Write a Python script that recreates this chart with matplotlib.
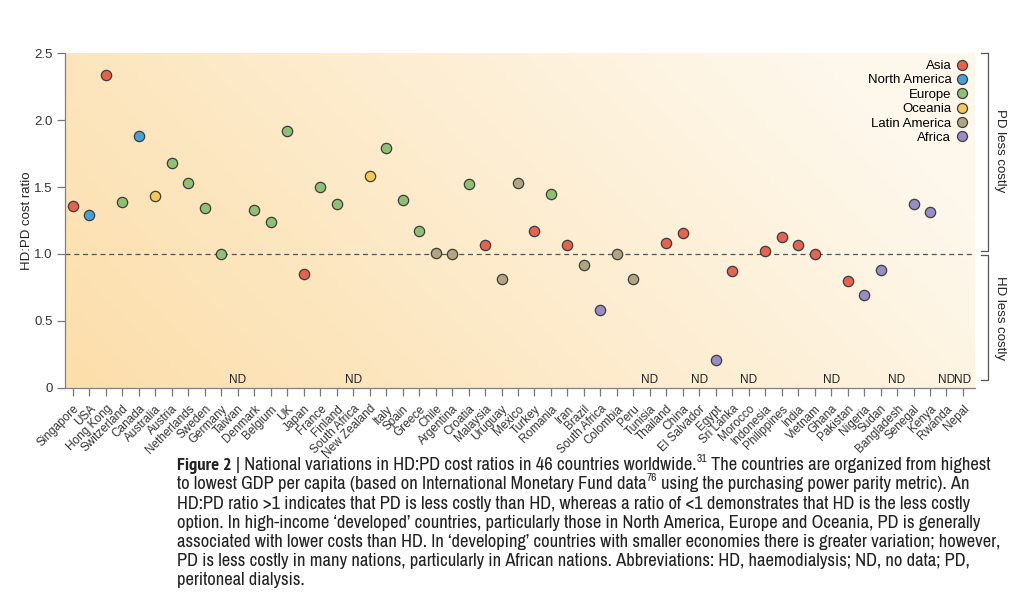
import numpy as np
import matplotlib
matplotlib.use("Agg")
import matplotlib.pyplot as plt
from matplotlib import font_manager
from matplotlib.font_manager import FontProperties
from matplotlib.lines import Line2D

# 数据：按人均GDP从高到低排列的国家，None 表示无数据 (ND)
countries = ["Singapore", "USA", "Hong Kong", "Switzerland", "Canada", "Australia",
             "Austria", "Netherlands", "Sweden", "Germany", "Taiwan", "Denmark",
             "Belgium", "UK", "Japan", "France", "Finland", "South Africa",
             "New Zealand", "Italy", "Spain", "Greece", "Chile", "Argentina",
             "Croatia", "Malaysia", "Uruguay", "Mexico", "Turkey", "Romania",
             "Iran", "Brazil", "South Africa", "Colombia", "Peru", "Tunisia",
             "Thailand", "China", "El Salvador", "Egypt", "Sri Lanka", "Morocco",
             "Indonesia", "Philippines", "India", "Vietnam", "Ghana", "Pakistan",
             "Nigeria", "Sudan", "Bangladesh", "Senegal", "Kenya", "Rwanda", "Nepal"]
ratios = [1.36, 1.29, 2.34, 1.39, 1.88, 1.43,
          1.68, 1.53, 1.34, 1.00, None, 1.33,
          1.24, 1.92, 0.85, 1.50, 1.37, None,
          1.58, 1.79, 1.40, 1.17, 1.01, 1.00,
          1.52, 1.07, 0.81, 1.53, 1.17, 1.45,
          1.07, 0.92, 0.58, 1.00, 0.81, None,
          1.08, 1.16, None, 0.21, 0.87, None,
          1.02, 1.13, 1.07, 1.00, None, 0.80,
          0.69, 0.88, None, 1.37, 1.31, None, None]
regions = ["Asia", "North America", "Asia", "Europe", "North America", "Oceania",
           "Europe", "Europe", "Europe", "Europe", None, "Europe",
           "Europe", "Europe", "Asia", "Europe", "Europe", None,
           "Oceania", "Europe", "Europe", "Europe", "Latin America", "Latin America",
           "Europe", "Asia", "Latin America", "Latin America", "Asia", "Europe",
           "Asia", "Latin America", "Africa", "Latin America", "Latin America", None,
           "Asia", "Asia", None, "Africa", "Asia", None,
           "Asia", "Asia", "Asia", "Asia", None, "Asia",
           "Africa", "Africa", None, "Africa", "Africa", None, None]

region_names = ["Asia", "North America", "Europe", "Oceania", "Latin America", "Africa"]
region_colors = ["#e5634f", "#4a9fda", "#8fc175", "#f6c955", "#b0a684", "#9a8cc4"]

yticks = [0, 0.5, 1.0, 1.5, 2.0, 2.5]
ytick_labels = ["0", "0.5", "1.0", "1.5", "2.0", "2.5"]

# 图注：每行由若干段组成 (文字, 样式)，样式 b=粗体, s=上标, n=正文
caption = [
    [("Figure 2", "b"), ("| National variations in HD:PD cost ratios in 46 countries worldwide.", "n"),
     ("31", "s"), ("The countries are organized from highest", "n")],
    [("to lowest GDP per capita (based on International Monetary Fund data", "n"), ("76", "s"),
     ("using the purchasing power parity metric). An", "n")],
    [("HD:PD ratio >1 indicates that PD is less costly than HD, whereas a ratio of <1 demonstrates that HD is the less costly", "n")],
    [("option. In high-income \u2018developed\u2019 countries, particularly those in North America, Europe and Oceania, PD is generally", "n")],
    [("associated with lower costs than HD. In \u2018developing\u2019 countries with smaller economies there is greater variation; however,", "n")],
    [("PD is less costly in many nations, particularly in African nations. Abbreviations: HD, haemodialysis; ND, no data; PD,", "n")],
    [("peritoneal dialysis.", "n")],
]

plt.rcParams['font.family'] = ["Liberation Sans", "DejaVu Sans"]


# 找一个窄体字体给图注用
def find_font(bold):
    want = 700 if bold else 400
    best = None
    for key in ["Narrow", "Condensed", "condensed"]:
        for f in font_manager.fontManager.ttflist:
            if f.style != "normal":
                continue
            w = f.weight if isinstance(f.weight, int) else (700 if "bold" in str(f.weight) else 400)
            if abs(w - want) > 100:
                continue
            if key in f.name or (key == "condensed" and str(f.stretch) in ("condensed", "semi-condensed")):
                if "Light" in f.name or "Extra" in f.name:
                    continue
                best = f.fname
                break
        if best:
            break
    if best:
        return FontProperties(fname=best)
    return FontProperties(family="Liberation Sans", weight="bold" if bold else "normal")


fp_n = find_font(False)
fp_b = find_font(True)

fig = plt.figure(figsize=(10.24, 5.93), dpi=100)
ax = fig.add_axes([65 / 1024, 1 - 387.7 / 593, 910 / 1024, (387.7 - 53.3) / 593])

# 背景渐变
nx, ny = 200, 100
gx, gy = np.meshgrid(np.linspace(0, 1, nx), np.linspace(0, 1, ny))
w = np.clip(0.85 * gx + 0.3 * gy, 0, 1)
c0 = np.array([252, 222, 170]) / 255
c1 = np.array([254, 248, 236]) / 255
img = c0[None, None, :] * (1 - w[..., None]) + c1[None, None, :] * w[..., None]
ax.imshow(img, extent=[0, 1, 0, 1], transform=ax.transAxes, origin="lower",
          aspect="auto", zorder=0)

x = np.arange(len(countries))
ax.axhline(1.0, color="#555555", lw=0.9, ls=(0, (4, 3)), zorder=1)

color_of = dict(zip(region_names, region_colors))
for i, (v, r) in enumerate(zip(ratios, regions)):
    if v is None:
        ax.text(i, 0.012, "ND", ha="center", va="bottom", fontsize=8.5, color="#222222")
    else:
        ax.scatter(i, v, s=55, color=color_of[r], edgecolor="#3d3d3d", linewidth=0.9, zorder=3)

# 图例
handles = [Line2D([], [], marker="o", ls="none", markersize=7.2, markerfacecolor=c,
                  markeredgecolor="#3d3d3d", markeredgewidth=0.9) for c in region_colors]
ax.legend(handles, region_names, loc="upper right", frameon=False, markerfirst=False,
          fontsize=9.5, handletextpad=0.3, labelspacing=0.16, borderaxespad=0.2,
          handlelength=1.0, borderpad=0.3)

ax.set_xlim(-0.485, 54.73)
ax.set_ylim(0, 2.5)
ax.set_xticks(x)
ax.set_xticklabels(countries, rotation=45, ha="right", rotation_mode="anchor",
                   fontsize=8.5, color="#333333")
ax.set_yticks(yticks)
ax.set_yticklabels(ytick_labels, fontsize=9.5, color="#333333")
ax.tick_params(axis="both", direction="out", length=6, width=0.9, colors="#777777",
               labelcolor="#333333")
ax.tick_params(axis="x", pad=5)
ax.tick_params(axis="y", pad=3)
for s in ["top", "right"]:
    ax.spines[s].set_visible(False)
for s in ["left", "bottom"]:
    ax.spines[s].set_color("#808080")
    ax.spines[s].set_linewidth(0.9)
ax.set_ylabel("HD:PD cost ratio", fontsize=9.5, color="#222222", labelpad=1)

# 右侧括号
tr = ax.get_yaxis_transform()
bx, bx0 = 1.0143, 1.0066
for y0, y1 in [(1.024, 2.5), (0.058, 0.992)]:
    ax.plot([bx0, bx, bx, bx0], [y0, y0, y1, y1], color="#555555", lw=0.9,
            transform=tr, clip_on=False)
ax.text(1.028, 1.77, "PD less costly", rotation=270, ha="center", va="center",
        fontsize=9.5, color="#222222", transform=tr)
ax.text(1.028, 0.52, "HD less costly", rotation=270, ha="center", va="center",
        fontsize=9.5, color="#222222", transform=tr)

# 图注：按参考图宽度调整字号
renderer = fig.canvas.get_renderer()
W = fig.bbox.width


def text_w(s, fp, size):
    t = fig.text(0, 0, s, fontproperties=fp, fontsize=size)
    wpx = t.get_window_extent(renderer).width
    t.remove()
    return wpx


probe = caption[4][0][0]
size = 10.0 * 826 / text_w(probe, fp_n, 10.0)
space = text_w("N N", fp_n, size) - text_w("NN", fp_n, size)

baselines = [470, 489.5, 508.7, 527.9, 547, 566, 585]
x0 = 177
for segs, yb in zip(caption, baselines):
    xp = x0
    for k, (s, st) in enumerate(segs):
        fp = fp_b if st == "b" else fp_n
        sz = size * 0.62 if st == "s" else size
        yy = yb - (size * 0.45 * 100 / 72 if st == "s" else 0)
        if k > 0 and st != "s":
            xp += space
        t = fig.text(xp / W, 1 - yy / 593, s, fontproperties=fp, fontsize=sz,
                     color="#222222", va="baseline", ha="left")
        xp += t.get_window_extent(renderer).width

fig.savefig("out.png", dpi=100)
